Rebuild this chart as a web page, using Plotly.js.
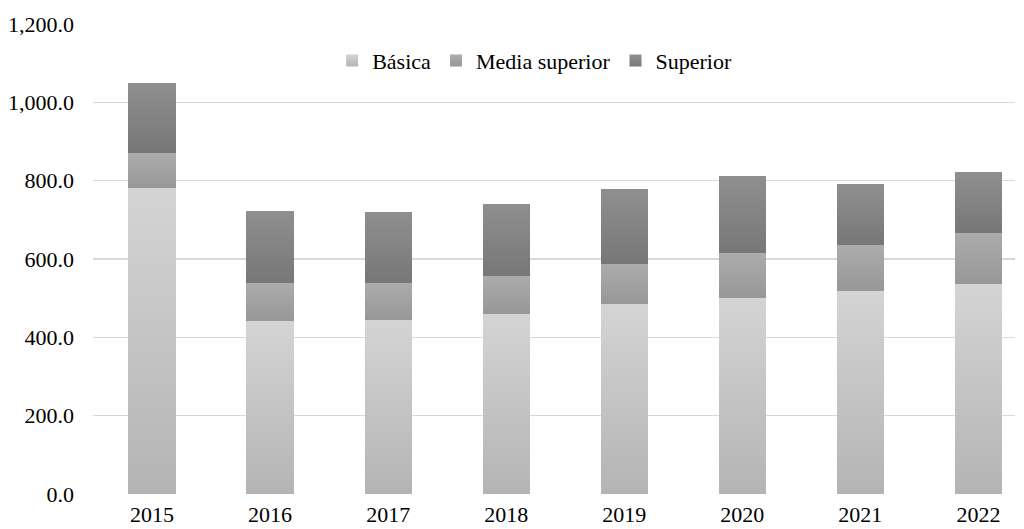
<!DOCTYPE html>
<html><head><meta charset="utf-8">
<script src="https://cdn.plot.ly/plotly-3.0.1.min.js"></script>
<style>body{margin:0;background:#fff}#chart{width:1024px;height:529px}</style>
</head><body><div id="chart"></div>
<script>
const years = ['2015','2016','2017','2018','2019','2020','2021','2022'];
const basica = [781, 442, 444, 460, 485, 500, 518, 536];
const mediaSuperior = [90, 97, 95, 97, 102, 115, 118, 130];
const superior = [178, 183, 181, 184, 191, 197, 155, 156];
const yTicks = [0, 200, 400, 600, 800, 1000, 1200];

const font = {family: 'Liberation Serif, Times New Roman, serif', color: '#000', size: 22};
const names = ['Básica', 'Media superior', 'Superior'];
const colors = ['#c8c8c8', '#a2a2a2', '#858585'];
const series = [basica, mediaSuperior, superior];
const traces = series.map((v, i) => ({
  type: 'bar', x: years, y: v, name: names[i],
  marker: {color: colors[i], line: {width: 0}},
  hoverinfo: 'y'
}));
const layout = {
  width: 1024, height: 529,
  margin: {l: 93, r: 9, t: 24, b: 35},
  barmode: 'stack', bargap: 0.6,
  paper_bgcolor: '#fff', plot_bgcolor: '#fff',
  font: font,
  showlegend: true,
  legend: {orientation: 'h', x: 0.479, xanchor: 'center', y: 0.922, yanchor: 'middle',
    font: font, traceorder: 'normal', itemwidth: 30},
  xaxis: {type: 'category', range: [-0.5, 7.31], showgrid: false, zeroline: false,
    showline: false, ticks: '', tickfont: font, ticklabelstandoff: 5},
  yaxis: {range: [0, 1200], tickvals: yTicks, ticktext: yTicks.map(v => v.toLocaleString('en-US', {minimumFractionDigits: 1, maximumFractionDigits: 1})),
    showgrid: true, gridcolor: '#d9d9d9', gridwidth: 1.5, zeroline: false, showline: false,
    ticks: '', tickfont: font, ticklabelstandoff: 18, fixedrange: true}
};
Plotly.newPlot('chart', traces, layout, {displayModeBar: false, staticPlot: true}).then(gd => {
  const svg = gd.querySelector('svg.main-svg');
  const ns = 'http://www.w3.org/2000/svg';
  const defs = document.createElementNS(ns, 'defs');
  const stops = [['#d4d4d4', '#b4b4b4'], ['#acacac', '#979797'], ['#8f8f8f', '#777777']];
  stops.forEach((s, i) => {
    const g = document.createElementNS(ns, 'linearGradient');
    g.setAttribute('id', 'grad' + i);
    g.setAttribute('x1', '0'); g.setAttribute('y1', '0'); g.setAttribute('x2', '0'); g.setAttribute('y2', '1');
    [[0, s[0]], [1, s[1]]].forEach(([o, c]) => {
      const st = document.createElementNS(ns, 'stop');
      st.setAttribute('offset', o); st.setAttribute('stop-color', c);
      g.appendChild(st);
    });
    defs.appendChild(g);
  });
  svg.insertBefore(defs, svg.firstChild);
  gd.querySelectorAll('.barlayer .trace.bars').forEach((t, i) => {
    t.querySelectorAll('path').forEach(p => { p.style.fill = 'url(#grad' + i + ')'; });
  });
  gd.querySelectorAll('.legend .traces').forEach((t, i) => {
    t.querySelectorAll('.legendpoints path').forEach(p => { p.style.fill = 'url(#grad' + i + ')'; });
  });
});
</script></body></html>
